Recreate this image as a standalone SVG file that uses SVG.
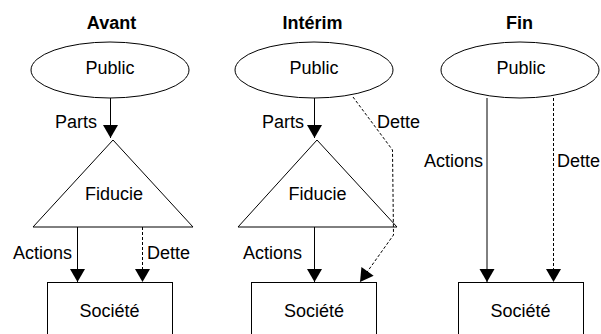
<svg xmlns="http://www.w3.org/2000/svg" width="601" height="334" viewBox="0 0 601 334">
<style>
text{font-family:"Liberation Sans",Arial,sans-serif;font-size:18px;fill:#000}
.t{font-weight:bold;text-anchor:middle}
.c{text-anchor:middle}
.e{text-anchor:end}
.s{fill:#fff;stroke:#000;stroke-width:1}
.l{fill:none;stroke:#000;stroke-width:1}
.d{fill:none;stroke:#000;stroke-width:1;stroke-dasharray:3,2}
</style>
<defs>
<marker id="a" markerUnits="userSpaceOnUse" markerWidth="13" markerHeight="15" refX="13" refY="7.5" orient="auto" overflow="visible">
<path d="M0,0 L13,7.5 L0,15 z" fill="#000"/>
</marker>
</defs>
<g id="titles">
<text class="t" x="111.5" y="29">Avant</text>
<text class="t" x="312.5" y="29">Intérim</text>
<text class="t" x="519.5" y="29">Fin</text>
</g>
<g id="public1"><ellipse class="s" cx="110" cy="70" rx="79" ry="28"/><text class="c" x="110" y="74">Public</text></g>
<g id="fiducie1"><polygon class="s" points="113,140 33,227 193,227"/><text class="c" x="114" y="200">Fiducie</text></g>
<g id="societe1"><rect class="s" x="47.5" y="282.5" width="125" height="60"/><text class="c" x="109.5" y="317">Société</text></g>
<g id="public2"><ellipse class="s" cx="314" cy="70" rx="79" ry="28"/><text class="c" x="314" y="74">Public</text></g>
<g id="fiducie2"><polygon class="s" points="317,140 238,227 397,227"/><text class="c" x="317.5" y="200">Fiducie</text></g>
<g id="societe2"><rect class="s" x="251.5" y="282.5" width="125" height="60"/><text class="c" x="314" y="317">Société</text></g>
<g id="public3"><ellipse class="s" cx="520" cy="70" rx="79" ry="28"/><text class="c" x="521" y="74">Public</text></g>
<g id="societe3"><rect class="s" x="458.5" y="282.5" width="125" height="60"/><text class="c" x="520.5" y="317">Société</text></g>
<g id="connectors">
<line class="l" x1="110.5" y1="98" x2="110.5" y2="138" marker-end="url(#a)"/>
<line class="l" x1="77.5" y1="227" x2="77.5" y2="282" marker-end="url(#a)"/>
<line class="d" x1="142.5" y1="227" x2="142.5" y2="282" marker-end="url(#a)"/>
<line class="l" x1="314.5" y1="98" x2="314.5" y2="138" marker-end="url(#a)"/>
<line class="l" x1="314.5" y1="227" x2="314.5" y2="282" marker-end="url(#a)"/>
<path class="d" d="M353,97 L392.5,150 L393.5,235 L360,282" marker-end="url(#a)"/>
<line class="l" x1="487" y1="98" x2="487" y2="282" marker-end="url(#a)"/>
<line class="d" x1="553.5" y1="98" x2="553.5" y2="282" marker-end="url(#a)"/>
<text class="e" x="97" y="128">Parts</text>
<text class="e" x="72" y="259">Actions</text>
<text x="147" y="259">Dette</text>
<text class="e" x="304" y="128">Parts</text>
<text x="377" y="128">Dette</text>
<text class="e" x="302" y="259">Actions</text>
<text class="e" x="483" y="167">Actions</text>
<text x="557" y="167">Dette</text>
</g>
</svg>
